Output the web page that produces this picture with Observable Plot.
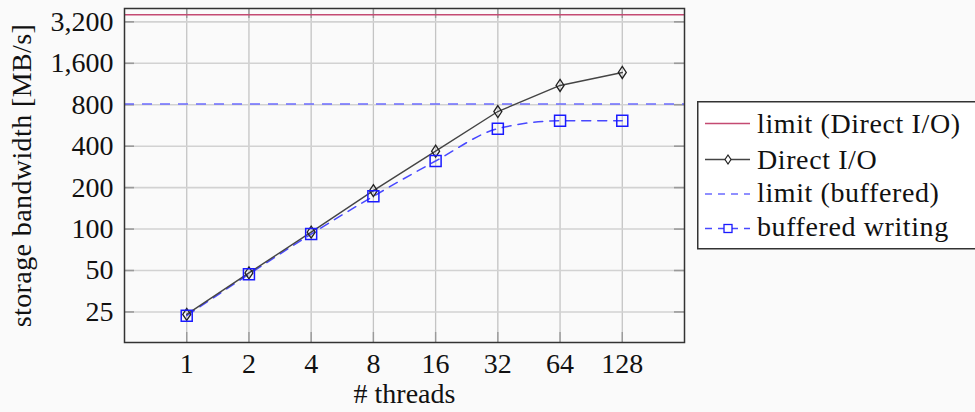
<!DOCTYPE html>
<html>
<head>
<meta charset="utf-8">
<script src="https://cdn.jsdelivr.net/npm/d3@7"></script>
<script src="https://cdn.jsdelivr.net/npm/@observablehq/plot@0.6"></script>
<style>
  html, body { margin: 0; padding: 0; background: #fafafa; }
  #wrap { position: relative; width: 975px; height: 412px; overflow: hidden; }
  #legend { position: absolute; left: 697px; top: 101px; }
</style>
</head>
<body>
<div id="wrap"></div>
<script>
// ---- data ----
const threads = [1, 2, 4, 8, 16, 32, 64, 128];
const directIO = [24, 48, 95, 190, 368, 714, 1104, 1372];
const bufferedWriting = [23.5, 47, 92, 173, 312, 536, 611, 611];
const limitDirect = 3600;
const limitBuffered = 810;
const xTicks = [1, 2, 4, 8, 16, 32, 64, 128];
const yTicks = [25, 50, 100, 200, 400, 800, 1600, 3200];
const seriesNames = ["limit (Direct I/O)", "Direct I/O", "limit (buffered)", "buffered writing"];
const xLabel = "# threads";
const yLabel = "storage bandwidth [MB/s]";

const directRows = threads.map((t, i) => ({t, v: directIO[i]}));
const bufRows = threads.map((t, i) => ({t, v: bufferedWriting[i]}));

const font = "'Liberation Serif', 'DejaVu Serif', serif";
const cRed = "#c44a72", cBlueLim = "#6b6bff", cBlue = "#4848ff", cBlueMk = "#1a1aff", cBlack = "#444";

const diamondSym = { draw(ctx) { ctx.moveTo(0, -6); ctx.lineTo(4, 0); ctx.lineTo(0, 6); ctx.lineTo(-4, 0); ctx.closePath(); } };
const squareSym = { draw(ctx) { ctx.moveTo(-5.5, -5.5); ctx.lineTo(5.5, -5.5); ctx.lineTo(5.5, 5.5); ctx.lineTo(-5.5, 5.5); ctx.closePath(); } };

const W = 975, H = 412, mL = 124, mR = 291, mT = 8, mB = 70;
const fw = W - mL - mR, fh = H - mT - mB;

const chart = Plot.plot({
  width: W, height: H,
  marginLeft: mL, marginRight: mR, marginTop: mT, marginBottom: mB,
  style: { fontFamily: font, fontSize: "28px", background: "#fafafa", color: "#111", overflow: "visible" },
  x: { type: "log", base: 2, domain: [0.5, 256] },
  y: { type: "log", base: 2, domain: [15, 4000] },
  marks: [
    Plot.ruleX(xTicks, { stroke: "#c4c4c4", strokeWidth: 1.3 }),
    Plot.ruleY(yTicks, { stroke: "#d2d2d2", strokeWidth: 1.6 }),
    // inner tick marks
    Plot.ruleX(xTicks, { stroke: "#9a9a9a", strokeWidth: 1.4, insetTop: fh - 10 }),
    Plot.ruleX(xTicks, { stroke: "#9a9a9a", strokeWidth: 1.4, insetBottom: fh - 10 }),
    Plot.ruleY(yTicks, { stroke: "#9a9a9a", strokeWidth: 1.6, insetRight: fw - 10 }),
    Plot.ruleY(yTicks, { stroke: "#9a9a9a", strokeWidth: 1.6, insetLeft: fw - 10 }),
    Plot.axisX({ ticks: xTicks, tickSize: 0, tickPadding: 11, tickFormat: d => String(d), label: null, fontSize: 28 }),
    Plot.axisY({ ticks: yTicks, tickSize: 0, tickPadding: 11, tickFormat: d3.format(","), label: null, fontSize: 28 }),
    // limits
    Plot.ruleY([limitDirect], { stroke: cRed, strokeWidth: 1.5 }),
    Plot.ruleY([limitBuffered], { stroke: cBlueLim, strokeWidth: 1.6, strokeDasharray: "10,8" }),
    // series
    Plot.line(bufRows, { x: "t", y: "v", stroke: cBlue, strokeWidth: 1.5, strokeDasharray: "9,7", curve: "monotone-x" }),
    Plot.line(directRows, { x: "t", y: "v", stroke: cBlack, strokeWidth: 1.4, curve: "linear" }),
    Plot.dot(directRows, { x: "t", y: "v", symbol: diamondSym, stroke: "#222", strokeWidth: 1.3, fill: "none" }),
    Plot.dot(bufRows, { x: "t", y: "v", symbol: squareSym, stroke: cBlueMk, strokeWidth: 1.5, fill: "none" }),
    Plot.frame({ stroke: "#333", strokeWidth: 1.5 }),
    // axis labels
    Plot.text([xLabel], { text: d => d, frameAnchor: "bottom", textAnchor: "middle", lineAnchor: "middle", dy: 52, fontSize: 28 }),
    Plot.text([yLabel], { text: d => d, frameAnchor: "left", textAnchor: "middle", lineAnchor: "middle", rotate: -90, dx: -102, fontSize: 28 })
  ]
});
chart.querySelectorAll("text").forEach(t => { if (t.textContent.includes("bandwidth")) t.style.letterSpacing = "0.4px"; });
document.getElementById("wrap").appendChild(chart);

// ---- legend ----
const ns = "http://www.w3.org/2000/svg";
const lg = document.createElementNS(ns, "svg");
lg.setAttribute("id", "legend");
lg.setAttribute("width", 290);
lg.setAttribute("height", 150);
function el(tag, attrs, parent) {
  const e = document.createElementNS(ns, tag);
  for (const k in attrs) e.setAttribute(k, attrs[k]);
  (parent || lg).appendChild(e);
  return e;
}
el("rect", { x: 0.75, y: 0.75, width: 300, height: 147, fill: "#ffffff", stroke: "#333", "stroke-width": 1.5 });
const rowsY = [22.5, 58.5, 93, 127.5];
const baseY = [32, 67.5, 101, 135];
// row 1
el("line", { x1: 8, x2: 53, y1: rowsY[0], y2: rowsY[0], stroke: cRed, "stroke-width": 1.5 });
// row 2
el("line", { x1: 8, x2: 53, y1: rowsY[1], y2: rowsY[1], stroke: cBlack, "stroke-width": 1.4 });
el("path", { d: `M31,${rowsY[1] - 4.5} L34,${rowsY[1]} L31,${rowsY[1] + 4.5} L28,${rowsY[1]} Z`, fill: "#fff", stroke: "#222", "stroke-width": 1.2 });
// row 3
el("line", { x1: 8, x2: 53, y1: rowsY[2], y2: rowsY[2], stroke: cBlueLim, "stroke-width": 1.6, "stroke-dasharray": "7,6" });
// row 4
el("line", { x1: 8, x2: 53, y1: rowsY[3], y2: rowsY[3], stroke: cBlue, "stroke-width": 1.5, "stroke-dasharray": "7,6", "stroke-dashoffset": 0 });
el("rect", { x: 27, y: rowsY[3] - 4, width: 8, height: 8, fill: "#fff", stroke: cBlueMk, "stroke-width": 1.3 });
seriesNames.forEach((name, i) => {
  const t = el("text", { x: 60, y: baseY[i], "font-family": font, "font-size": 28, fill: "#111", "letter-spacing": "0.6" });
  t.textContent = name;
});
document.getElementById("wrap").appendChild(lg);
</script>
</body>
</html>
